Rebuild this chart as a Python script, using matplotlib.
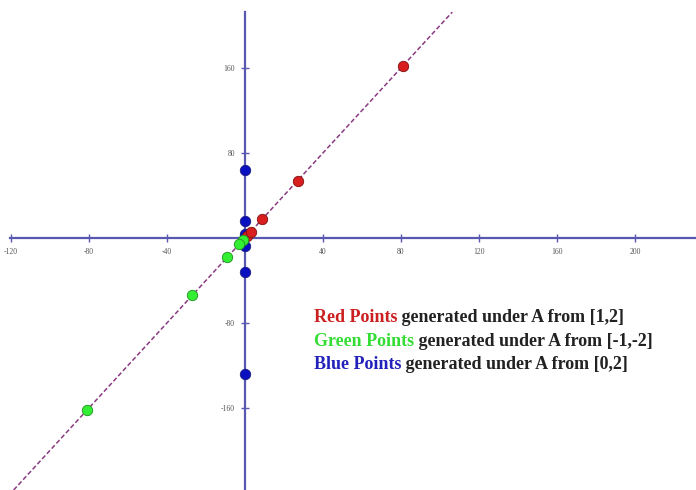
import numpy as np
import matplotlib
matplotlib.use("Agg")
import matplotlib.pyplot as plt

plt.rcParams["axes.unicode_minus"] = False

# points generated by repeated application of A
red_x = [1, 3, 9, 27, 81]
red_y = [2, 6, 18, 54, 162]
green_x = [-1, -3, -9, -27, -81]
green_y = [-2, -6, -18, -54, -162]
blue_x = [0, 0, 0, 0, 0, 0, 0]
blue_y = [2, 4, -8, 16, -32, 64, -128]

x_ticks = [-120, -80, -40, 40, 80, 120, 160, 200]
y_ticks = [-160, -80, 80, 160]

axis_col = "#5858b0"

fig = plt.figure(figsize=(6.96, 4.9), dpi=100)
ax = fig.add_axes([0, 0, 1, 478 / 490])
ax.set_xlim(-125.6, 231.3)
ax.set_ylim(-237.2, 212.7)

for s in ["top", "right"]:
    ax.spines[s].set_visible(False)
ax.spines["left"].set_position(("data", 0))
ax.spines["bottom"].set_position(("data", 0))
ax.spines["bottom"].set_bounds(-120.5, 231.3)
for s in ["left", "bottom"]:
    ax.spines[s].set_color(axis_col)
    ax.spines[s].set_linewidth(1.6)
    ax.spines[s].set_zorder(1)

ax.set_xticks(x_ticks)
ax.set_yticks(y_ticks)
ax.tick_params(direction="inout", length=6, width=1, color=axis_col,
               labelsize=5.5, labelcolor="#555555", pad=4)
for lab in ax.get_xticklabels() + ax.get_yticklabels():
    lab.set_family("Liberation Serif")

# eigenvector line
ax.axline((0, 0), slope=2, color="#8a3a80", lw=1.1, ls=(0, (3, 1.6)), zorder=2)

ax.plot(blue_x, blue_y, "o", ms=7.5, color="#0a10c0", mec="#1a1a80", mew=0.6, zorder=3)
ax.plot(red_x, red_y, "o", ms=7.5, color="#d81e1e", mec="#801010", mew=0.6, zorder=4)
ax.plot(green_x, green_y, "o", ms=7.5, color="#33ee33", mec="#209020", mew=0.6, zorder=4)

lines = [("Red Points", "#cc2020", " generated under A from [1,2]"),
         ("Green Points", "#33dd33", " generated under A from [-1,-2]"),
         ("Blue Points", "#2222bb", " generated under A from [0,2]")]
font = dict(family="Liberation Serif", fontsize=13, weight="bold")
for i, (head, col, rest) in enumerate(lines):
    t = fig.text(0.451, 1 - (318 + 23 * i) / 490, head, color=col,
                 va="center", ha="left", **font)
    ax.annotate(rest, xy=(1, 0.5), xycoords=t, va="center", ha="left",
                color="#222222", **font)

fig.savefig("out.png", dpi=100)
